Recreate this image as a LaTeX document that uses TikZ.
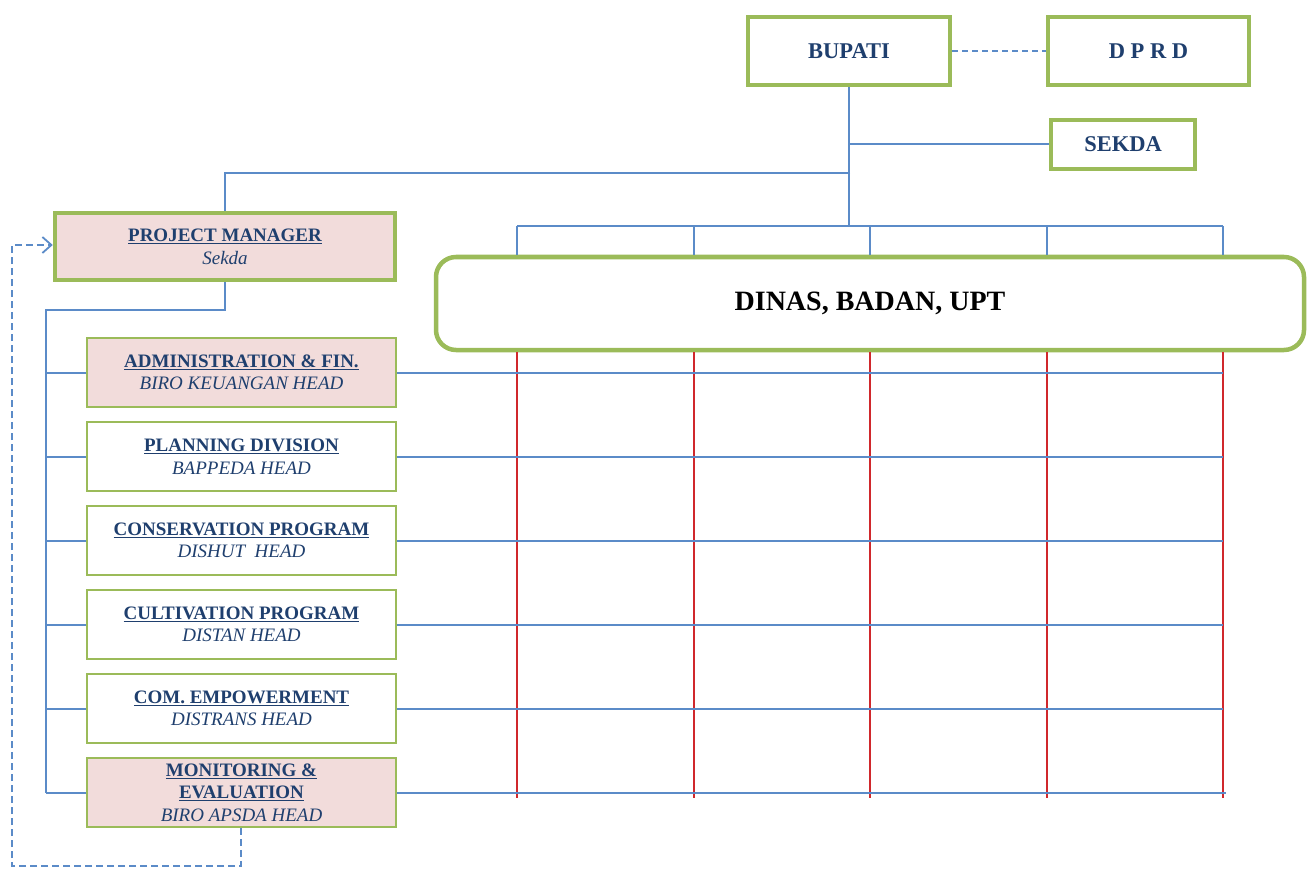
\documentclass[tikz,border=0pt]{standalone}
\usepackage{fontspec}
\setmainfont{Liberation Serif}
\usetikzlibrary{arrows.meta}
\definecolor{boxgreen}{HTML}{9BBB59}
\definecolor{linkblue}{HTML}{5B8BC8}
\definecolor{gridred}{HTML}{D0282C}
\definecolor{txtblue}{HTML}{1F3F6E}
\definecolor{pinkfill}{HTML}{F2DCDB}
\tikzset{
  topbox/.style={draw=boxgreen, line width=4.5pt, fill=white, inner sep=0pt,
    font=\fontsize{22.5}{26}\selectfont\bfseries, text=txtblue},
  pmbox/.style={topbox, fill=pinkfill, minimum width=340pt, minimum height=67pt,
    align=center, font=\fontsize{19}{23}\selectfont},
  unitbox/.style={draw=boxgreen, line width=1.8pt, fill=white, inner sep=0pt,
    minimum width=309pt, minimum height=69pt, align=center, text=txtblue,
    font=\fontsize{19}{22.5}\selectfont},
  pinkunit/.style={unitbox, fill=pinkfill},
  dinasbox/.style={draw=boxgreen, line width=4.5pt, fill=white, rounded corners=20pt,
    minimum width=868pt, minimum height=93pt, inner sep=0pt,
    font=\fontsize{28}{32}\selectfont\bfseries, text=black},
  link/.style={draw=linkblue, line width=2pt},
  redlink/.style={draw=gridred, line width=1.8pt},
  feedback/.style={draw=linkblue, line width=1.8pt, dash pattern=on 7pt off 4pt},
}
\newcommand{\unittitle}[1]{\textbf{\underline{#1}}}
\begin{document}
\begin{tikzpicture}[x=1pt, y=-1pt]
\useasboundingbox (0,0) rectangle (1312,869);

% junctions of the connector grid
\coordinate (rail) at (517,226);
\coordinate (railend) at (1223,226);
\coordinate (redend) at (0,798);
\coordinate (jpm) at (850,173);
\coordinate (bustop) at (46,310);
\coordinate (busbot) at (46,793);
\coordinate (fbl) at (12,866);
\foreach \i/\x in {1/517, 2/694, 3/870, 4/1047, 5/1223}
  \coordinate (col\i) at (\x,226);

% boxes
\node[topbox, minimum width=202pt, minimum height=68pt] (bupati) at (849,51) {BUPATI};
\node[topbox, minimum width=201pt, minimum height=68pt] (dprd) at (1148.5,51) {D P R D};
\node[topbox, minimum width=144pt, minimum height=49pt] (sekda) at (1123,144.5) {SEKDA};
\node[pmbox] (pm) at (225,246.5) {\unittitle{PROJECT MANAGER}\\\textit{Sekda}};
\node[dinasbox] (dinas) at (870,303.5) {DINAS, BADAN, UPT};

\node[pinkunit] (u1) at (241.5,372.5) {\unittitle{ADMINISTRATION \& FIN.}\\\textit{BIRO KEUANGAN HEAD}};
\node[unitbox] (u2) at (241.5,456.5) {\unittitle{PLANNING DIVISION}\\\textit{BAPPEDA HEAD}};
\node[unitbox] (u3) at (241.5,540.5) {\unittitle{CONSERVATION PROGRAM}\\\textit{DISHUT\ \ HEAD}};
\node[unitbox] (u4) at (241.5,624.5) {\unittitle{CULTIVATION PROGRAM}\\\textit{DISTAN HEAD}};
\node[unitbox] (u5) at (241.5,708.5) {\unittitle{COM. EMPOWERMENT}\\\textit{DISTRANS HEAD}};
\node[pinkunit] (u6) at (241.5,792.5) {\unittitle{MONITORING \&}\\\unittitle{EVALUATION}\\\textit{BIRO APSDA HEAD}};

% Bupati links
\draw[link, line width=1.6pt, dash pattern=on 6pt off 4pt] (bupati.east) -- (dprd.west);
\draw[link] (bupati.south) -- (bupati.south |- rail);
\draw[link] (bupati.south |- sekda.west) -- (sekda.west);
\draw[link] (jpm) -| (pm.north);

% rail above the Dinas box
\draw[link] (rail) -- (railend);
\foreach \i in {1,...,5}
  \draw[link] (col\i) -- (col\i |- dinas.north);

% red columns below the Dinas box
\foreach \i in {1,...,5}
  \draw[redlink] (col\i |- dinas.south) -- (col\i |- redend);

% rows from each unit
\foreach \u in {u1,u2,u3,u4,u5}
  \draw[link] (\u.east) -- (\u.east -| railend);
\draw[link] (u6.east) -- ([xshift=3pt]u6.east -| railend);

% bus from the project manager
\draw[link] (pm.south) |- (bustop) -- (busbot);
\foreach \u in {u1,u2,u3,u4,u5,u6}
  \draw[link] (\u.west) -- (\u.west -| bustop);

% feedback loop from monitoring back to the project manager
\draw[feedback, -{Straight Barb[length=9pt, width=16pt]}]
  ([xshift=-0.5pt]u6.south) |- (fbl) |- ([yshift=1.5pt]pm.west);
\end{tikzpicture}
\end{document}
